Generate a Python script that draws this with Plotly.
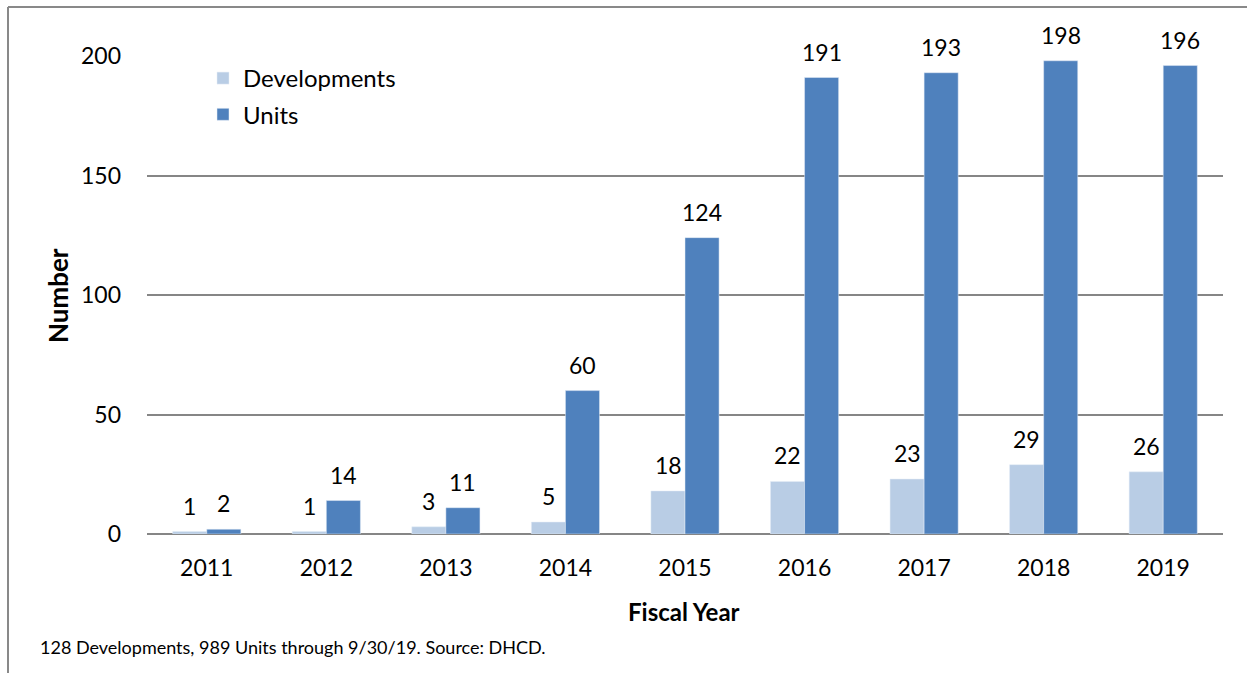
import plotly.graph_objects as go

years = ["2011", "2012", "2013", "2014", "2015", "2016", "2017", "2018", "2019"]
developments = [1, 1, 3, 5, 18, 22, 23, 29, 26]
units = [2, 14, 11, 60, 124, 191, 193, 198, 196]
y_ticks = [0, 50, 100, 150, 200]

FONT = "Lato, Open Sans, sans-serif"
FS = 23
L, R, T, B = 147, 24, 56, 139
W, H = 1247, 673
pw = W - L - R
ph = H - T - B

def px(x):
    return (x - L) / pw

def py(y):
    return (H - B - y) / ph

fig = go.Figure()
fig.add_trace(go.Bar(
    name="Developments", x=years, y=developments, marker_color="#B9CDE5",
    legendgroup="d", textposition="none",
))
fig.add_trace(go.Bar(
    name="Units", x=years, y=units, marker_color="#4F81BD",
    legendgroup="u", textposition="none",
))

# value labels above bars (positioned at data coordinates)
labels = []
for series, shift in ((developments, -17), (units, 17)):
    for i, v in enumerate(series):
        labels.append(dict(
            x=i, y=v, xref="x", yref="y", text=str(v), showarrow=False,
            xshift=shift, yshift=26, xanchor="center", yanchor="middle",
            font=dict(size=FS, family=FONT, color="#000000"),
        ))

fig.update_layout(
    width=W, height=H, autosize=False,
    margin=dict(l=L, r=R, t=T, b=B),
    paper_bgcolor="white", plot_bgcolor="white",
    barmode="group", bargap=0.43, bargroupgap=0,
    font=dict(family=FONT, size=FS, color="#000000"),
    showlegend=True,
    legend=dict(x=px(203), y=py(56), xanchor="left", yanchor="top",
                font=dict(size=24, family=FONT), bgcolor="rgba(0,0,0,0)",
                itemwidth=30, tracegroupgap=2),
    xaxis=dict(type="category", categoryorder="array", categoryarray=years,
               showgrid=False, showline=False, ticks="", tickfont=dict(size=FS),
               ticklabelstandoff=18),
    yaxis=dict(range=[0, 200], tickvals=y_ticks, showgrid=True, gridcolor="#868686",
               gridwidth=1.5, zeroline=True, zerolinecolor="#868686", zerolinewidth=2,
               showline=False, ticks="", tickfont=dict(size=FS), ticklabelstandoff=25),
    annotations=labels + [
        dict(text="<b>Number</b>", x=px(58), y=py(296), xref="paper", yref="paper",
             xanchor="center", yanchor="middle",
             textangle=-90, showarrow=False, font=dict(size=26, family=FONT)),
        dict(text="<b>Fiscal Year</b>", x=px(684), y=py(611), xref="paper", yref="paper",
             xanchor="center", yanchor="middle",
             showarrow=False, font=dict(size=24, family=FONT)),
        dict(text="128 Developments, 989 Units through 9/30/19. Source: DHCD.",
             x=px(38), y=py(647), xref="paper", yref="paper", xanchor="left",
             yanchor="middle",
             showarrow=False, font=dict(size=18, family=FONT)),
    ],
    shapes=[
        dict(type="line", xref="paper", yref="paper", x0=px(8), x1=px(8), y0=py(7), y1=py(700),
             line=dict(color="#898989", width=2)),
        dict(type="line", xref="paper", yref="paper", x0=px(8), x1=px(1260), y0=py(7), y1=py(7),
             line=dict(color="#898989", width=2)),
    ],
)

fig.write_html("out.html")
